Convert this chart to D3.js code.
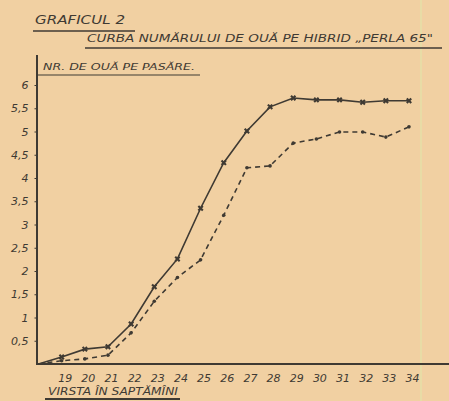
<!DOCTYPE html>
<html><head><meta charset="utf-8">
<script src="https://cdn.jsdelivr.net/npm/d3@7"></script>
<style>
html,body{margin:0;padding:0;background:#f1d0a2;}
svg{display:block;}
text{font-family:"DejaVu Sans",sans-serif;font-style:italic;fill:#3f3a33;}
</style></head>
<body>
<script>
const weeks = [18,19,20,21,22,23,24,25,26,27,28,29,30,31,32,33,34];
const solidValues  = [0,0.15,0.32,0.37,0.86,1.66,2.26,3.35,4.33,5.01,5.53,5.72,5.68,5.68,5.63,5.66,5.66];
const dashedValues = [0,0.07,0.11,0.19,0.67,1.35,1.86,2.24,3.20,4.22,4.26,4.75,4.84,4.99,4.99,4.88,5.10];
const xTicks = [19,20,21,22,23,24,25,26,27,28,29,30,31,32,33,34];
const yTicks = [0.5,1,1.5,2,2.5,3,3.5,4,4.5,5,5.5,6];
const yTickLabels = ["0,5","1","1,5","2","2,5","3","3,5","4","4,5","5","5,5","6"];

const W = 449, H = 401;
const ink = "#3f3a33";
const svg = d3.select("body").append("svg").attr("width", W).attr("height", H);

// paper background and fold artefact
svg.append("rect").attr("width", W).attr("height", H).attr("fill", "#f1d0a2");
svg.append("line").attr("x1", 421).attr("x2", 421).attr("y1", 0).attr("y2", H)
  .attr("stroke", "#e6e0a8").attr("stroke-width", 2).attr("opacity", 0.8);

const x = d3.scaleLinear().domain([18, 34]).range([38.5, 409]);
const y = d3.scaleLinear().domain([0, 6]).range([364, 85]);

// axes
const xAxis = d3.axisBottom(x).tickValues(xTicks).tickSize(0).tickPadding(10).tickFormat(d => d);
const gx = svg.append("g").attr("transform", `translate(0,${y(0)})`).call(xAxis);
gx.select(".domain").remove();
gx.selectAll("text").attr("font-size", 11).attr("fill", ink).attr("dx", 3).style("font-family", "DejaVu Sans").style("font-style","italic");

const yAxis = d3.axisLeft(y).tickValues(yTicks).tickSize(3).tickPadding(6)
  .tickFormat((d, i) => yTickLabels[i]);
const gy = svg.append("g").attr("transform", `translate(${x(18) - 1},0)`).call(yAxis);
gy.select(".domain").remove();
gy.selectAll("line").attr("stroke", ink);
gy.selectAll("text").attr("font-size", 11).attr("fill", ink).style("font-family", "DejaVu Sans").style("font-style","italic");

// axis lines
svg.append("line").attr("x1", 37).attr("x2", W).attr("y1", y(0)).attr("y2", y(0))
  .attr("stroke", ink).attr("stroke-width", 2);
svg.append("line").attr("x1", 37).attr("x2", 37).attr("y1", 55).attr("y2", y(0) + 1)
  .attr("stroke", ink).attr("stroke-width", 2);

// series
const line = d3.line().x((d, i) => x(weeks[i])).y(d => y(d));
svg.append("path").datum(solidValues).attr("d", line)
  .attr("fill", "none").attr("stroke", ink).attr("stroke-width", 1.6);
svg.append("path").datum(dashedValues).attr("d", line)
  .attr("fill", "none").attr("stroke", ink).attr("stroke-width", 1.6)
  .attr("stroke-dasharray", "5,4");

const idx = d3.range(1, weeks.length);
svg.append("g").selectAll("path").data(idx).join("path")
  .attr("d", d3.symbol().type(d3.symbolCross).size(22))
  .attr("transform", i => `translate(${x(weeks[i])},${y(solidValues[i])}) rotate(45)`)
  .attr("fill", ink);
svg.append("g").selectAll("circle").data(idx).join("circle")
  .attr("cx", i => x(weeks[i])).attr("cy", i => y(dashedValues[i])).attr("r", 1.8)
  .attr("fill", ink);

// titles
svg.append("text").attr("x", 35).attr("y", 24).attr("font-size", 12)
  .attr("textLength", 90).attr("lengthAdjust", "spacingAndGlyphs").text("GRAFICUL 2");
svg.append("line").attr("x1", 33).attr("x2", 135).attr("y1", 31).attr("y2", 31)
  .attr("stroke", ink).attr("stroke-width", 1.5);
svg.append("text").attr("x", 87).attr("y", 42).attr("font-size", 11)
  .attr("textLength", 346).attr("lengthAdjust", "spacingAndGlyphs")
  .text("CURBA NUMĂRULUI DE OUĂ PE HIBRID „PERLA 65\"");
svg.append("line").attr("x1", 85).attr("x2", 442).attr("y1", 48).attr("y2", 48)
  .attr("stroke", ink).attr("stroke-width", 1.5);

svg.append("text").attr("x", 43).attr("y", 70).attr("font-size", 9)
  .attr("textLength", 152).attr("lengthAdjust", "spacingAndGlyphs")
  .text("NR. DE OUĂ PE PASĂRE.");
svg.append("line").attr("x1", 37).attr("x2", 200).attr("y1", 75).attr("y2", 75)
  .attr("stroke", ink).attr("stroke-width", 1.2);

svg.append("text").attr("x", 48).attr("y", 395).attr("font-size", 10)
  .attr("textLength", 130).attr("lengthAdjust", "spacingAndGlyphs")
  .text("VIRSTA ÎN SAPTĂMÎNI");
svg.append("line").attr("x1", 45).attr("x2", 180).attr("y1", 399).attr("y2", 399)
  .attr("stroke", ink).attr("stroke-width", 2);
</script>
</body></html>
